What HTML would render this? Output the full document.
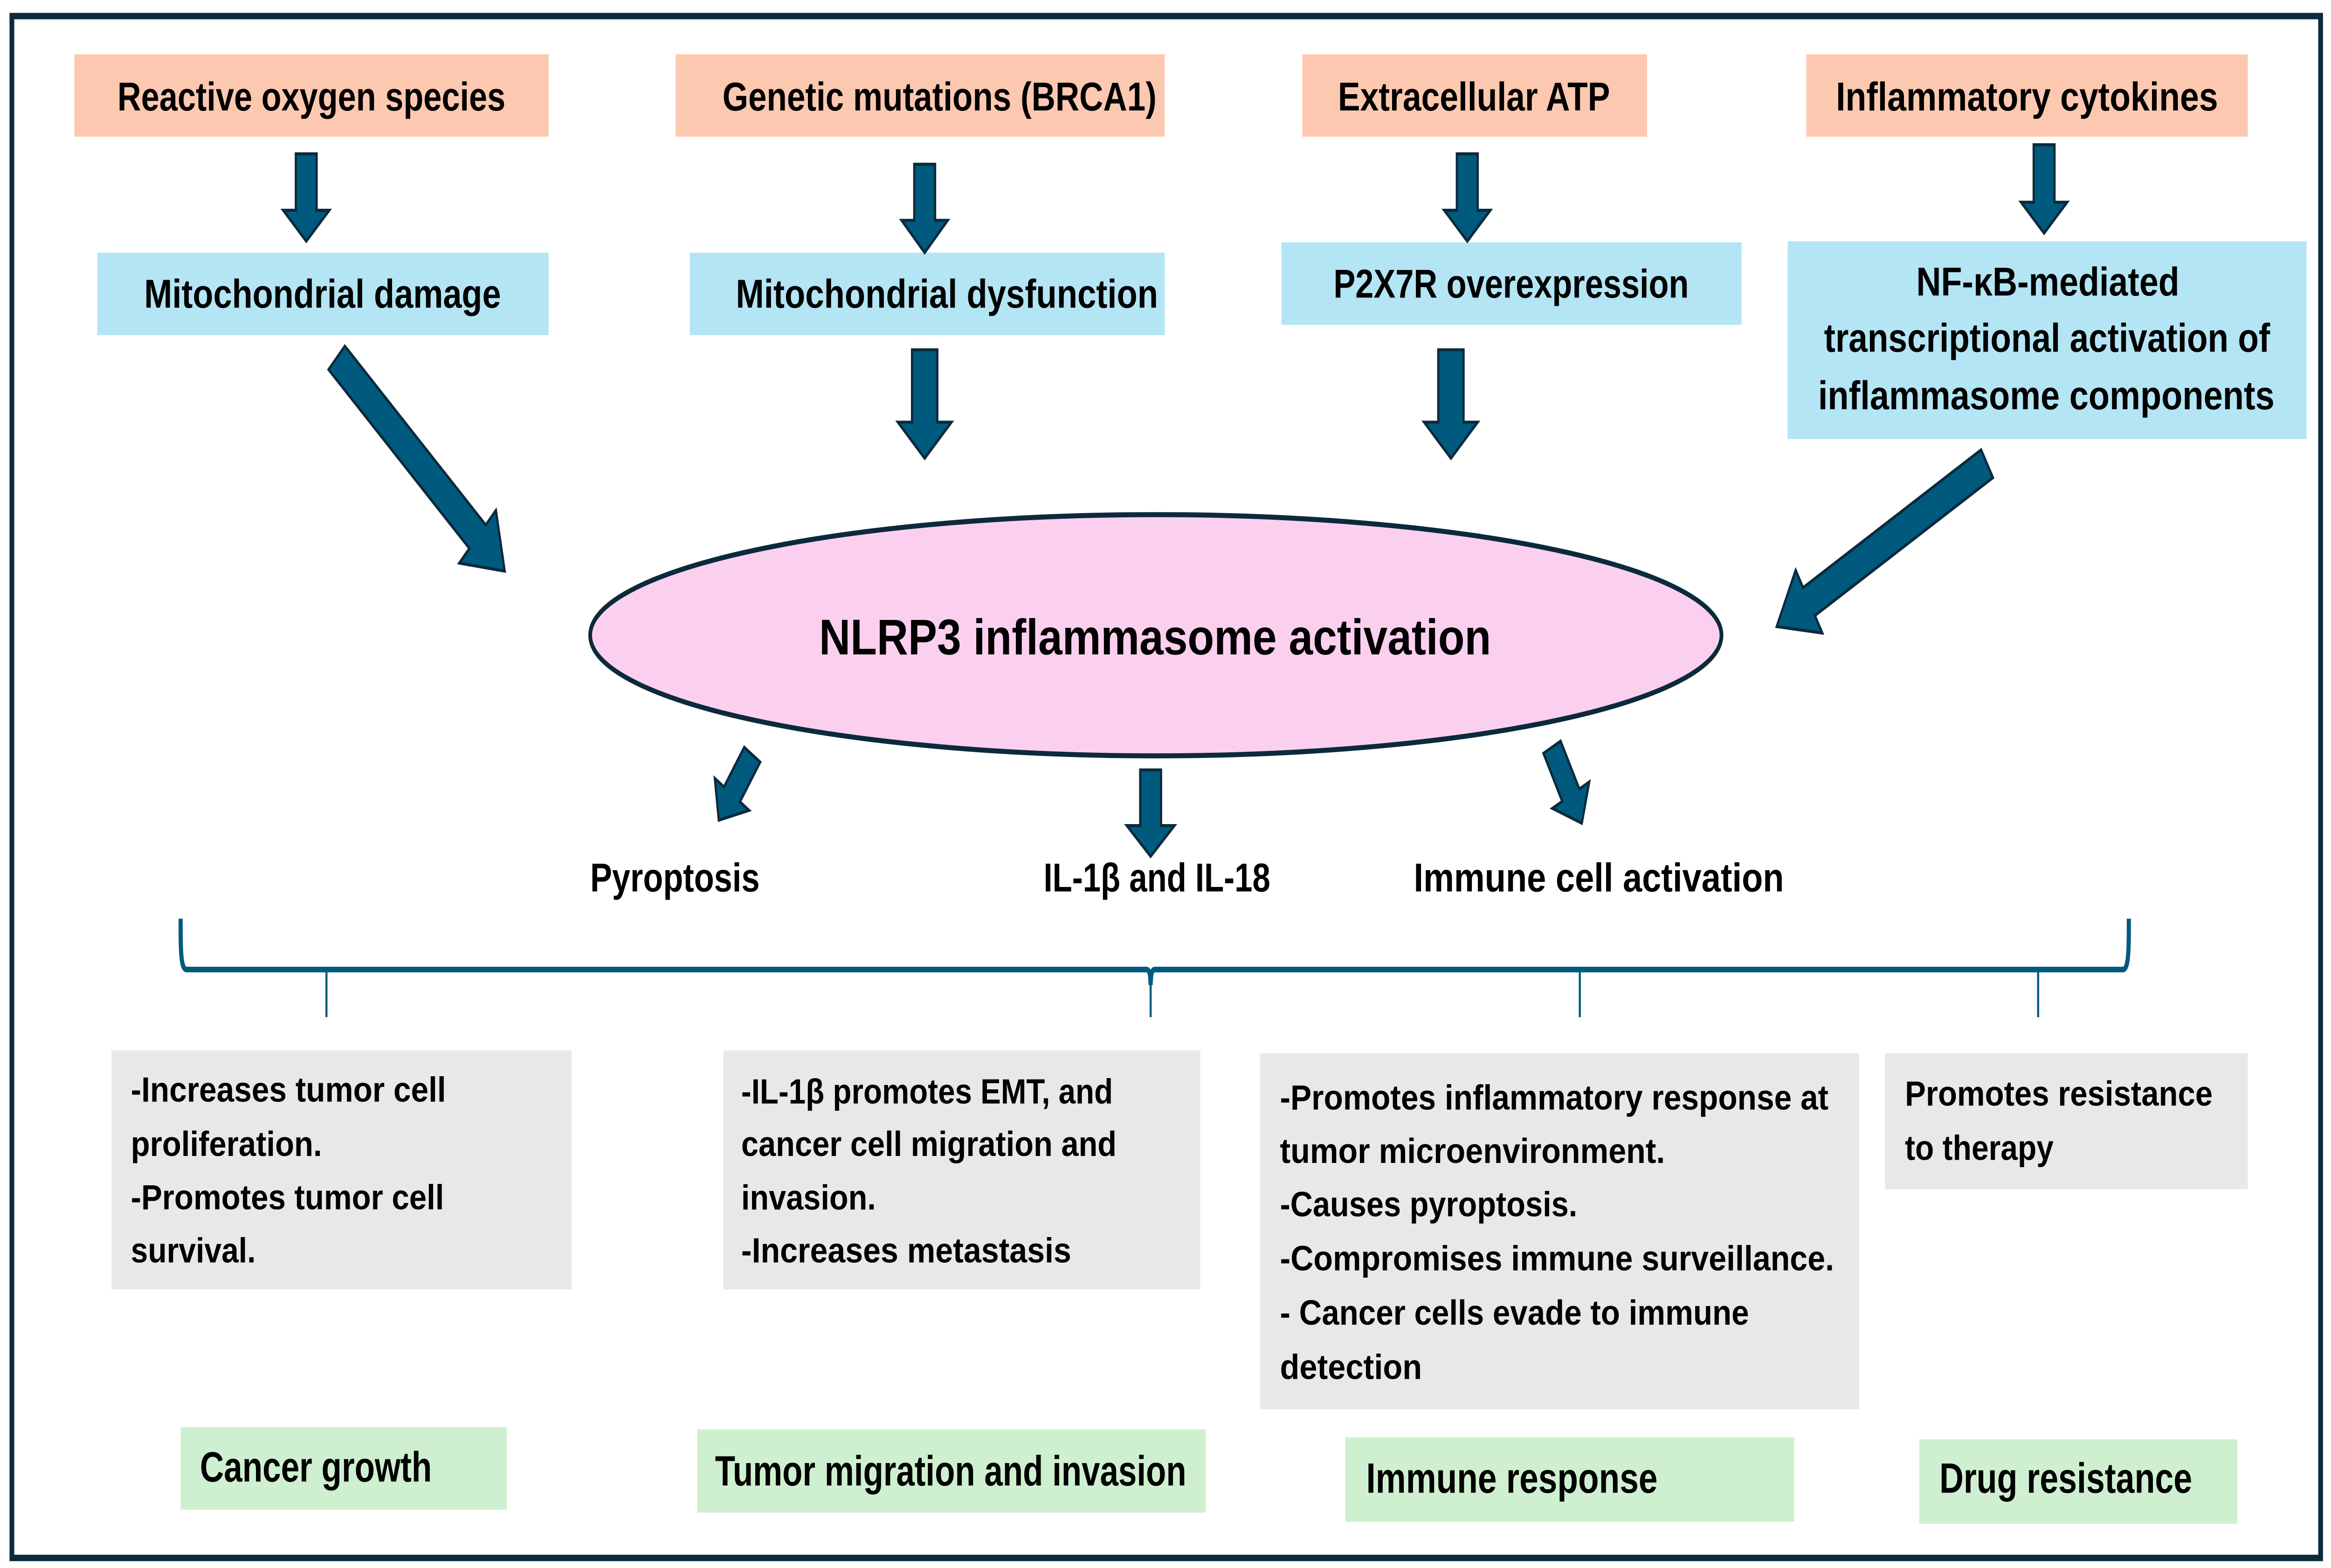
<!DOCTYPE html>
<html><head><meta charset="utf-8"><style>
html,body{margin:0;padding:0;background:#fff;width:100%;height:100%;overflow:hidden;}
svg{display:block;position:fixed;left:0;top:0;width:100vw;height:100vh;}
text{font-family:"Liberation Sans",sans-serif;font-weight:bold;fill:#000;}
</style></head><body>
<svg viewBox="0 0 1568 780" preserveAspectRatio="none" xmlns="http://www.w3.org/2000/svg">
<rect x="0" y="0" width="1568" height="780" fill="#fff"/>
<rect x="8" y="8" width="1553" height="767" fill="none" stroke="#0b2a3c" stroke-width="3.2"/>

<g fill="#fcc9b0">
<rect x="50" y="27" width="319" height="41"/>
<rect x="454.5" y="27" width="329" height="41"/>
<rect x="876" y="27" width="232" height="41"/>
<rect x="1215" y="27" width="297" height="41"/>
</g>
<g font-size="20">
<text x="79" y="55" textLength="261" lengthAdjust="spacingAndGlyphs">Reactive oxygen species</text>
<text x="486" y="55" textLength="292" lengthAdjust="spacingAndGlyphs">Genetic mutations (BRCA1)</text>
<text x="900" y="55" textLength="183" lengthAdjust="spacingAndGlyphs">Extracellular ATP</text>
<text x="1235" y="55" textLength="257" lengthAdjust="spacingAndGlyphs">Inflammatory cytokines</text>
</g>

<g fill="#b3e5f4">
<rect x="65.4" y="125.7" width="303.6" height="41"/>
<rect x="464" y="125.7" width="319.5" height="41"/>
<rect x="862" y="120.6" width="309.5" height="41"/>
<rect x="1202.5" y="120" width="349" height="98.4"/>
</g>
<g font-size="20">
<text x="97" y="153" textLength="240" lengthAdjust="spacingAndGlyphs">Mitochondrial damage</text>
<text x="495" y="153" textLength="284" lengthAdjust="spacingAndGlyphs">Mitochondrial dysfunction</text>
<text x="897" y="148" textLength="239" lengthAdjust="spacingAndGlyphs">P2X7R overexpression</text>
<text x="1289" y="147" textLength="177" lengthAdjust="spacingAndGlyphs">NF-κB-mediated</text>
<text x="1227" y="175" textLength="300" lengthAdjust="spacingAndGlyphs">transcriptional activation of</text>
<text x="1223" y="203.6" textLength="307" lengthAdjust="spacingAndGlyphs">inflammasome components</text>
</g>

<g fill="#005a7e" stroke="#0b2a3c" stroke-width="1.5">
<polygon points="199,76.5 213,76.5 213,104.6 221.5,104.6 206,120 190.5,104.6 199,104.6"/>
<polygon points="615,81.7 629,81.7 629,109.6 637.5,109.6 622,125.7 606.5,109.6 615,109.6"/>
<polygon points="980,76.5 994,76.5 994,104.6 1002.5,104.6 987,120 971.5,104.6 980,104.6"/>
<polygon points="1368,72 1382,72 1382,100.6 1390.5,100.6 1375,116 1359.5,100.6 1368,100.6"/>
<polygon points="613.5,174 630.5,174 630.5,210 640,210 622,228 604,210 613.5,210"/>
<polygon points="967.5,174 984.5,174 984.5,210 994,210 976,228 958,210 967.5,210"/>
<polygon points="767,383 781,383 781,410.7 790,410.7 774,426 758,410.7 767,410.7"/>
<polygon transform="translate(226.5,178) rotate(-46.8)" points="-8,0 8,0 8,130 18,130 0,155 -18,130 -8,130"/>
<polygon transform="translate(1336.6,230.7) rotate(60.2)" points="-8,0 8,0 8,138 18,138 0,163 -18,138 -8,138"/>
<polygon transform="translate(506,375.4) rotate(34.6)" points="-6.5,0 6.5,0 6.5,24 14,24 0,39.6 -14,24 -6.5,24"/>
<polygon transform="translate(1044,371.7) rotate(-27.9)" points="-6.5,0 6.5,0 6.5,27 14,27 0,42.8 -14,27 -6.5,27"/>
</g>

<ellipse cx="777.5" cy="316" rx="380.5" ry="60" fill="#fbd0ee" stroke="#0b2a3c" stroke-width="2.5"/>
<text x="551" y="325.5" font-size="25" textLength="452" lengthAdjust="spacingAndGlyphs">NLRP3 inflammasome activation</text>

<g font-size="20">
<text x="397" y="443.4" textLength="114" lengthAdjust="spacingAndGlyphs">Pyroptosis</text>
<text x="702" y="443.4" textLength="152.5" lengthAdjust="spacingAndGlyphs">IL-1β and IL-18</text>
<text x="951" y="443.4" textLength="249" lengthAdjust="spacingAndGlyphs">Immune cell activation</text>
</g>

<g stroke="#005a7e" fill="none">
<path d="M121.5,457 C121.5,472 121.5,482.3 125.5,482.3 L771,482.3 C773.5,482.3 773.8,485 774,490 C774.2,485 774.5,482.3 777,482.3 L1428,482.3 C1432,482.3 1432,472 1432,457" stroke-width="2.8"/>
<line x1="219.6" y1="482" x2="219.6" y2="506" stroke-width="1.4"/>
<line x1="774" y1="488" x2="774" y2="506" stroke-width="1.4"/>
<line x1="1062.7" y1="482" x2="1062.7" y2="506" stroke-width="1.4"/>
<line x1="1371" y1="482" x2="1371" y2="506" stroke-width="1.4"/>
</g>

<g fill="#e8e8e8">
<rect x="75" y="522.5" width="309.5" height="119"/>
<rect x="486.6" y="522.5" width="320.8" height="119"/>
<rect x="847.6" y="524" width="403" height="177"/>
<rect x="1268" y="524" width="244" height="67.5"/>
</g>
<g font-size="17.5">
<text x="88" y="548" textLength="212" lengthAdjust="spacingAndGlyphs">-Increases tumor cell</text>
<text x="88" y="575" textLength="128.6" lengthAdjust="spacingAndGlyphs">proliferation.</text>
<text x="88" y="601.6" textLength="210.7" lengthAdjust="spacingAndGlyphs">-Promotes tumor cell</text>
<text x="88" y="628" textLength="84" lengthAdjust="spacingAndGlyphs">survival.</text>
<text x="498.6" y="549" textLength="250" lengthAdjust="spacingAndGlyphs">-IL-1β promotes EMT, and</text>
<text x="498.6" y="575" textLength="252.5" lengthAdjust="spacingAndGlyphs">cancer cell migration and</text>
<text x="498.6" y="601.7" textLength="90.6" lengthAdjust="spacingAndGlyphs">invasion.</text>
<text x="498.6" y="628" textLength="222" lengthAdjust="spacingAndGlyphs">-Increases metastasis</text>
<text x="861" y="552" textLength="369" lengthAdjust="spacingAndGlyphs">-Promotes inflammatory response at</text>
<text x="861" y="578.5" textLength="259" lengthAdjust="spacingAndGlyphs">tumor microenvironment.</text>
<text x="861" y="605" textLength="200" lengthAdjust="spacingAndGlyphs">-Causes pyroptosis.</text>
<text x="861" y="632" textLength="372.7" lengthAdjust="spacingAndGlyphs">-Compromises immune surveillance.</text>
<text x="861" y="659" textLength="315.5" lengthAdjust="spacingAndGlyphs">- Cancer cells evade to immune</text>
<text x="861" y="686" textLength="95.5" lengthAdjust="spacingAndGlyphs">detection</text>
<text x="1281.4" y="550" textLength="207" lengthAdjust="spacingAndGlyphs">Promotes resistance</text>
<text x="1281.4" y="577" textLength="100" lengthAdjust="spacingAndGlyphs">to therapy</text>
</g>

<g fill="#cff0d0">
<rect x="121.5" y="710" width="219.5" height="41"/>
<rect x="469" y="711" width="342" height="41.5"/>
<rect x="905" y="715" width="302" height="42"/>
<rect x="1291" y="716" width="214" height="42"/>
</g>
<g font-size="21">
<text x="134.5" y="737" textLength="156" lengthAdjust="spacingAndGlyphs">Cancer growth</text>
<text x="481" y="739" textLength="317" lengthAdjust="spacingAndGlyphs">Tumor migration and invasion</text>
<text x="919" y="742.5" textLength="196" lengthAdjust="spacingAndGlyphs">Immune response</text>
<text x="1304.6" y="742.5" textLength="170" lengthAdjust="spacingAndGlyphs">Drug resistance</text>
</g>
</svg>
</body></html>
